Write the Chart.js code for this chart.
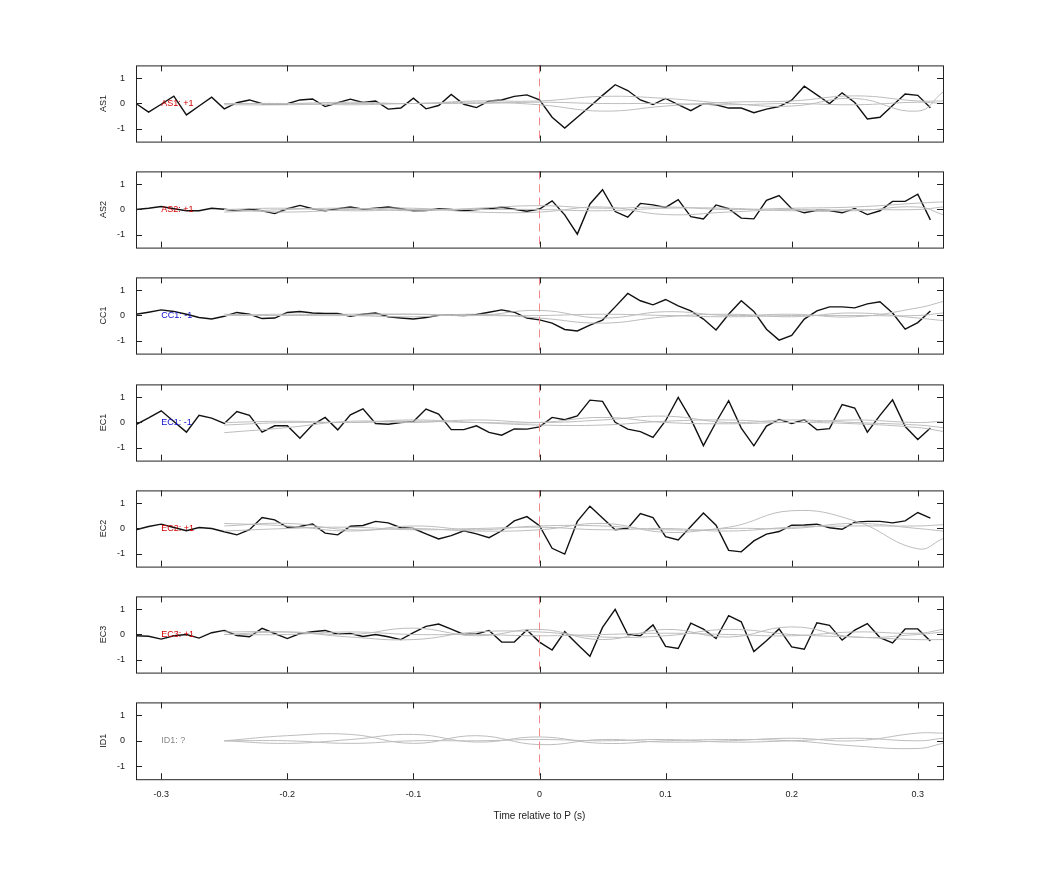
<!DOCTYPE html>
<html><head><meta charset="utf-8">
<script src="https://cdn.jsdelivr.net/npm/chart.js@4"></script>
<style>body{margin:0;background:#fff;width:1042px;height:875px;position:relative;overflow:hidden}
.p{position:absolute;left:0;width:1042px}</style></head><body>
<script>
const channels = ['AS1','AS2','CC1','EC1','EC2','EC3','ID1'];
const labels = ['AS1: +1','AS2: +1','CC1: -1','EC1: -1','EC2: +1','EC3: +1','ID1: ?'];
const labelColors = ['#d40000','#d40000','#1010d0','#1010d0','#d40000','#d40000','#888888'];
const xTicks = [-0.3,-0.2,-0.1,0,0.1,0.2,0.3];
const yTicks = [-1,0,1];
const tStart = -0.32; // black trace samples every 0.01 s
const AS1 = [0,-0.34,-0.03,0.29,-0.45,-0.1,0.25,-0.21,0.03,0.14,-0.01,-0.01,-0.01,0.14,0.18,-0.12,0.03,0.17,0.04,0.1,-0.22,-0.18,0.21,-0.21,-0.08,0.36,-0.03,-0.16,0.1,0.14,0.28,0.34,0.14,
 -0.54,-0.97,-0.54,-0.12,0.32,0.74,0.51,0.14,-0.04,0.2,-0.04,-0.28,-0.01,-0.05,-0.18,-0.18,-0.36,-0.22,-0.12,0.13,0.68,0.34,0,0.42,0.04,-0.61,-0.54,-0.08,0.37,0.32,-0.17];
const AS2 = [0,0.05,0.12,0.03,-0.05,-0.05,0.05,0.01,-0.05,0.01,-0.05,-0.16,0.03,0.16,0.03,-0.05,0.03,0.1,0.01,0.05,0.1,0.03,-0.05,-0.04,0.03,0,-0.05,0,0.03,0.09,0.01,-0.07,0.02,
 0.34,-0.21,-0.97,0.22,0.78,-0.08,-0.3,0.24,0.18,0.08,0.39,-0.28,-0.37,0.18,0.03,-0.34,-0.37,0.36,0.55,0.03,-0.13,-0.03,-0.04,-0.13,0.04,-0.2,-0.05,0.32,0.32,0.6,-0.41];
const CC1 = [0.05,0.13,0.22,0.16,0.05,-0.08,-0.14,-0.03,0.12,0.05,-0.12,-0.1,0.12,0.16,0.1,0.08,0.08,-0.03,0.05,0.1,-0.05,-0.1,-0.14,-0.08,0.01,0.02,0,0.04,0.13,0.22,0.13,-0.1,-0.17,
 -0.3,-0.55,-0.61,-0.38,-0.18,0.34,0.87,0.58,0.42,0.63,0.38,0.18,-0.14,-0.57,0.05,0.58,0.16,-0.54,-0.97,-0.78,-0.14,0.18,0.34,0.34,0.3,0.46,0.54,0.1,-0.54,-0.28,0.18];
const EC1 = [-0.08,0.18,0.46,0.04,-0.38,0.28,0.17,-0.04,0.43,0.28,-0.38,-0.13,-0.13,-0.62,-0.09,0.2,-0.29,0.3,0.54,-0.04,-0.07,0,0.04,0.53,0.33,-0.28,-0.28,-0.13,-0.39,-0.5,-0.25,-0.26,-0.17,
 0.2,0.11,0.26,0.88,0.83,0.01,-0.26,-0.36,-0.59,0.07,0.99,0.14,-0.91,0.01,0.86,-0.22,-0.92,-0.14,0.12,-0.04,0.11,-0.29,-0.24,0.71,0.57,-0.38,0.28,0.89,-0.16,-0.67,-0.22];
const EC2 = [-0.05,0.08,0.17,0.04,-0.09,0.04,0,-0.13,-0.25,-0.05,0.43,0.34,0.05,0.08,0.18,-0.18,-0.25,0.09,0.12,0.28,0.22,0.03,0,-0.21,-0.41,-0.28,-0.09,-0.21,-0.36,-0.09,0.3,0.47,0.11,
 -0.78,-1.01,0.28,0.88,0.41,-0.05,0.01,0.59,0.43,-0.32,-0.45,0.08,0.61,0.13,-0.86,-0.92,-0.49,-0.22,-0.12,0.13,0.14,0.17,0.03,-0.03,0.25,0.28,0.28,0.22,0.3,0.63,0.41];
const EC3 = [-0.05,-0.07,-0.18,-0.05,0,-0.14,0.07,0.16,-0.04,-0.09,0.24,0.04,-0.16,0.04,0.11,0.16,0.01,0.04,-0.08,0,-0.09,-0.2,0.07,0.32,0.41,0.21,0,0.02,0.16,-0.3,-0.3,0.18,-0.3,
 -0.61,0.11,-0.38,-0.86,0.28,0.99,0,-0.05,0.38,-0.47,-0.55,0.45,0.21,-0.16,0.74,0.5,-0.67,-0.25,0.22,-0.49,-0.58,0.46,0.36,-0.22,0.17,0.43,-0.12,-0.33,0.22,0.22,-0.26];
const ID1 = null;
const grayT = [-0.25,-0.2,-0.15,-0.1,-0.05,0,0.05,0.1,0.15,0.2,0.25,0.3,0.32];
const grays = [
 [[0,0,0.05,0,0.1,0.1,0.28,0.2,0,-0.1,0.2,-0.3,0.45],[-0.05,-0.05,0,0,0.05,-0.05,-0.3,-0.1,0.05,0.1,0.3,0.1,0.1],[0,0,-0.05,0,0,0.05,0,0,-0.05,0,-0.05,0.05,0]],
 [[-0.1,0,0.05,-0.05,0.05,0.15,0.05,0.1,0,0.05,0.1,0.25,0.3],[0,-0.1,0,0.05,-0.1,-0.1,0.1,-0.2,-0.1,0,-0.05,0.1,-0.2],[0,0.05,-0.05,0,0,0,-0.05,0.05,0.05,-0.05,0,0,0.1]],
 [[0.05,0,0.05,0.05,0,0.2,-0.1,0.15,0,0.05,-0.05,0.3,0.55],[0,0.05,0,-0.05,0.05,-0.1,-0.3,-0.05,0.05,-0.05,0.1,-0.1,-0.2],[0,0,0,0.05,0,0,0.05,0,-0.05,0,0,0,0.1]],
 [[-0.4,-0.2,0.05,0,0.1,0,0.1,0.25,0,0.1,0,-0.1,-0.2],[0,0.05,0,0.1,0,-0.1,-0.1,0.05,0.1,0,0.1,0,0.05],[-0.1,0,0,0.05,0,0,0.2,0,-0.05,0,-0.05,-0.2,-0.35]],
 [[0.2,0.1,-0.1,0.1,-0.05,0.1,0.1,-0.05,0.05,0.7,0.3,-0.8,-0.4],[0.1,0.2,-0.05,0,-0.1,-0.05,0.2,-0.15,0,0,0.2,0,-0.1],[-0.1,0,0.05,-0.05,0,0.05,-0.05,0,-0.1,0.05,0.1,0.1,0.15]],
 [[0,0.1,0,0.25,-0.05,0.2,-0.2,0.2,-0.1,0.3,-0.1,0,0.1],[0.1,0.1,-0.1,-0.2,0.1,0.1,-0.1,-0.05,0.2,0,-0.1,-0.2,-0.2],[0,0,0.1,0,0,-0.05,0,0.05,0,-0.05,0.1,0.05,0.2]],
 [[0,0.2,0.25,-0.1,0.2,-0.15,0.05,-0.05,0,0.1,0,0.3,0.3],[0,-0.1,0.05,0.25,-0.05,0.15,-0.1,0,0.05,0,-0.2,-0.3,-0.1],[0,0,-0.1,0,0,0.05,0,0.05,-0.05,0,0.1,0,0.1]]
];
const blacks = [AS1,AS2,CC1,EC1,EC2,EC3,ID1];
const panelTops = [63,169,275,382,488,594,700];
const panelH = 76;

function frame(idx){
  return {id:'frame'+idx, afterDraw(ch){
    const c=ch.ctx, a=ch.chartArea, xs=ch.scales.x, ys=ch.scales.y;
    c.save();
    const x0=xs.getPixelForValue(0);
    c.strokeStyle='#ee8a8a'; c.lineWidth=1; c.setLineDash([8,5]);
    c.beginPath(); c.moveTo(x0,a.top); c.lineTo(x0,a.bottom); c.stroke();
    c.setLineDash([]);
    c.strokeStyle='#222'; c.lineWidth=1;
    c.strokeRect(a.left+0.5,a.top+0.5,a.right-a.left,a.bottom-a.top);
    c.beginPath();
    xTicks.forEach(v=>{const p=Math.round(xs.getPixelForValue(v))+0.5;
      c.moveTo(p,a.top);c.lineTo(p,a.top+6);c.moveTo(p,a.bottom);c.lineTo(p,a.bottom-6);});
    yTicks.forEach(v=>{const p=Math.round(ys.getPixelForValue(v))+0.5;
      c.moveTo(a.left,p);c.lineTo(a.left+6,p);c.moveTo(a.right,p);c.lineTo(a.right-6,p);});
    c.stroke();
    c.fillStyle=labelColors[idx]; c.font='9px "Liberation Sans", Arial'; c.textBaseline='middle';
    c.fillText(labels[idx], xs.getPixelForValue(-0.3), ys.getPixelForValue(0));
    c.restore();
  }};
}

channels.forEach((ch,idx)=>{
  const last = idx===6;
  const padTop=6, extraBottom = last?50:11;
  const div=document.createElement('div'); div.className='p';
  div.style.top=(panelTops[idx]-padTop)+'px';
  const h=panelH+padTop+extraBottom;
  div.style.height=h+'px';
  const cv=document.createElement('canvas'); div.appendChild(cv); document.body.appendChild(div);
  const ds=[];
  grays[idx].forEach(g=>ds.push({data:g.map((v,i)=>({x:grayT[i],y:v})),borderColor:'#bdbdbd',borderWidth:1,pointRadius:0,tension:0.45}));
  if(blacks[idx]) ds.push({data:blacks[idx].map((v,i)=>({x:+(tStart+i*0.01).toFixed(2),y:v})),borderColor:'#111',borderWidth:1.4,pointRadius:0,tension:0});
  new Chart(cv,{type:'line',data:{datasets:ds},plugins:[frame(idx)],
   options:{responsive:true,maintainAspectRatio:false,animation:false,
    layout:{padding:{top:padTop,bottom:0,left:96,right:99}},
    plugins:{legend:{display:false},tooltip:{enabled:false}},
    scales:{
     x:{type:'linear',min:-0.32,max:0.32,grid:{display:false},border:{display:false},
        afterBuildTicks:s=>{s.ticks=xTicks.map(v=>({value:v}));},
        ticks:{display:last,color:'#222',font:{size:9,family:'"Liberation Sans", Arial'},padding:2,maxRotation:0,callback:v=>(v===0?'0':String(v))},
        title:{display:last,text:'Time relative to P (s)',color:'#222',font:{size:10,family:'"Liberation Sans", Arial'},padding:{top:8}},
        afterFit:s=>{if(!last)s.height=0;}},
     y:{min:-1.5,max:1.5,grid:{display:false},border:{display:false},
        afterBuildTicks:s=>{s.ticks=yTicks.map(v=>({value:v}));},
        ticks:{color:'#222',font:{size:9,family:'"Liberation Sans", Arial'},padding:3},
        title:{display:true,text:ch,color:'#222',font:{size:9,family:'"Liberation Sans", Arial'},padding:2},
        afterFit:s=>{s.width=40;}}
    }}});
});
</script></body></html>
